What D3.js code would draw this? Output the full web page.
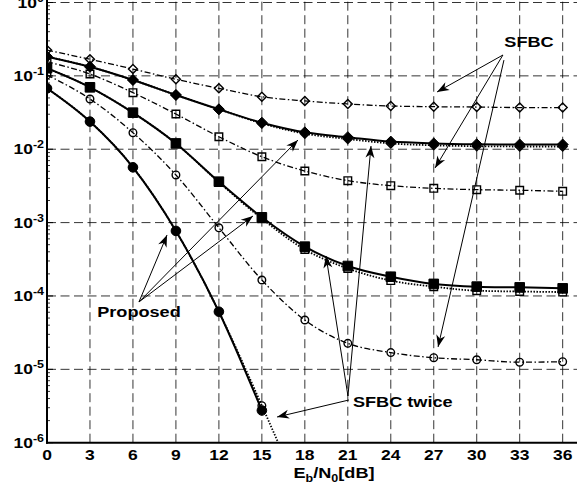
<!DOCTYPE html>
<html>
<head>
<meta charset="utf-8">
<script src="https://cdn.jsdelivr.net/npm/d3@7"></script>
<style>
  body { margin: 0; background: #fff; }
  text { font-family: "Liberation Sans", Arial, sans-serif; font-weight: bold; fill: #000; }
</style>
</head>
<body>
<div id="chart"></div>
<script>
// Basic setup
var width = 585,
    height = 486;

// Eb/N0 in dB, one marker every 3 dB
var snr = [0, 3, 6, 9, 12, 15, 18, 21, 24, 27, 30, 33, 36];
var xTicks = [0, 3, 6, 9, 12, 15, 18, 21, 24, 27, 30, 33, 36];
var yExponents = [0, -1, -2, -3, -4, -5, -6];

// SFBC (dash-dot, open markers)
var sfbcDiamond = [0.225, 0.168, 0.124, 0.0898, 0.0676, 0.052, 0.0455, 0.0414, 0.0388, 0.038, 0.0376, 0.037, 0.037];
var sfbcSquare  = [0.156, 0.106, 0.059, 0.0302, 0.0148, 0.0079, 0.00505, 0.00373, 0.00319, 0.00293, 0.00281, 0.00276, 0.00267];
var sfbcCircle  = [0.103, 0.0484, 0.0168, 0.00446, 8.5e-4, 1.65e-4, 4.7e-5, 2.26e-5, 1.69e-5, 1.44e-5, 1.35e-5, 1.25e-5, 1.27e-5];

// Proposed (solid, filled markers)
var propDiamond = [0.183, 0.133, 0.0879, 0.0549, 0.035, 0.023, 0.017, 0.0146, 0.0127, 0.012, 0.0117, 0.0116, 0.0116];
var propSquare  = [0.127, 0.0698, 0.0315, 0.012, 0.00361, 0.00118, 4.7e-4, 2.56e-4, 1.83e-4, 1.46e-4, 1.34e-4, 1.31e-4, 1.27e-4];
var propCircle  = [0.0676, 0.0238, 0.00567, 7.7e-4, 6.1e-5, 2.75e-6];

// SFBC twice (dotted, open markers)
var twiceDiamond = [0.183, 0.133, 0.0879, 0.0549, 0.035, 0.0225, 0.0163, 0.0138, 0.012, 0.0113, 0.011, 0.0109, 0.0109];
var twiceSquare  = [0.127, 0.0698, 0.0315, 0.012, 0.00355, 0.00113, 4.3e-4, 2.37e-4, 1.62e-4, 1.34e-4, 1.18e-4, 1.15e-4, 1.13e-4];
var twiceCircle  = [0.0676, 0.0238, 0.00567, 7.7e-4, 6.1e-5, 3.2e-6, 1.45e-7];

// Annotations in data units: label, label position, arrows [from, to]
var annotations = [
  { text: "SFBC", at: [33.65, 0.29], anchor: "middle",
    arrows: [[[31.83, 0.1925], [27.23, 0.0603]],
             [[31.83, 0.1925], [27.09, 0.00555]],
             [[31.9, 0.164], [27.3, 2.02e-5]]] },
  { text: "Proposed", at: [6.42, 6.05e-5], anchor: "middle",
    arrows: [[[6.42, 8.28e-5], [8.38, 6.78e-4]],
             [[6.42, 8.28e-5], [14.38, 1.23e-3]],
             [[6.42, 8.28e-5], [17.52, 0.01336]]] },
  { text: "SFBC twice", at: [21.36, 3.59e-6], anchor: "start",
    arrows: [[[21.08, 3.82e-6], [16.06, 2.24e-6]],
             [[21.01, 4.33e-6], [19.48, 3.5e-4]],
             [[21.01, 4.33e-6], [22.62, 0.01107]]] }
];

var stretch = 1.25; // the figure text is horizontally stretched

var x = d3.scaleLinear().domain([0, 37]).range([47, 577]);
var y = d3.scaleLog().domain([1e-6, 1]).range([442.7, 2.5]);

var svg = d3.select("#chart").append("svg")
    .attr("width", width)
    .attr("height", height);

svg.append("defs").append("clipPath").attr("id", "plot")
  .append("rect")
    .attr("x", x(0)).attr("y", 0)
    .attr("width", x(37) - x(0)).attr("height", y(1e-6));

var arrowHead = svg.select("defs").append("marker")
    .attr("id", "head")
    .attr("markerUnits", "userSpaceOnUse")
    .attr("markerWidth", 14).attr("markerHeight", 12)
    .attr("viewBox", "-13 -6 14 12")
    .attr("refX", 0).attr("refY", 0)
    .attr("orient", "auto");
arrowHead.append("path").attr("d", "M0,0 L-12,-4.5 L-8.5,0 L-12,4.5 Z").attr("fill", "#000");

// Grid (dashed)
var grid = svg.append("g").attr("stroke", "#000").attr("stroke-width", 0.8).attr("stroke-dasharray", "9,4.5");
grid.selectAll("line.vx")
    .data(xTicks.filter(function(d) { return d > 0; }))
  .enter().append("line")
    .attr("x1", function(d) { return x(d); }).attr("x2", function(d) { return x(d); })
    .attr("y1", y(1e-6)).attr("y2", 0);
grid.selectAll("line.hy")
    .data(yExponents.filter(function(d) { return d > -6; }))
  .enter().append("line")
    .attr("x1", x(0)).attr("x2", x(37))
    .attr("y1", function(d) { return y(Math.pow(10, d)); })
    .attr("y2", function(d) { return y(Math.pow(10, d)); });

// Minor ticks on the log axis
var minor = [];
for (var e = -6; e < 0; e++) {
  for (var m = 2; m <= 9; m++) minor.push(m * Math.pow(10, e));
}
svg.append("g").selectAll("line")
    .data(minor)
  .enter().append("line")
    .attr("x1", x(0)).attr("x2", x(0) + 3)
    .attr("y1", function(d) { return y(d); }).attr("y2", function(d) { return y(d); })
    .attr("stroke", "#000").attr("stroke-width", 0.8);
svg.append("g").selectAll("line")
    .data(yExponents)
  .enter().append("line")
    .attr("x1", x(0)).attr("x2", x(0) + 6)
    .attr("y1", function(d) { return y(Math.pow(10, d)); })
    .attr("y2", function(d) { return y(Math.pow(10, d)); })
    .attr("stroke", "#000").attr("stroke-width", 1);

// Axis lines
svg.append("line").attr("x1", x(0)).attr("x2", x(0)).attr("y1", 0).attr("y2", y(1e-6) + 1)
    .attr("stroke", "#000").attr("stroke-width", 2);
svg.append("line").attr("x1", x(0) - 1).attr("x2", x(37)).attr("y1", y(1e-6)).attr("y2", y(1e-6))
    .attr("stroke", "#000").attr("stroke-width", 2);

// Tick labels
svg.append("g").selectAll("text")
    .data(xTicks)
  .enter().append("text")
    .attr("transform", function(d) { return "translate(" + x(d) + ",460) scale(" + stretch + ",1)"; })
    .attr("text-anchor", "middle")
    .style("font-size", "14px")
    .text(function(d) { return d; });

var yLab = svg.append("g").selectAll("text")
    .data(yExponents)
  .enter().append("text")
    .attr("transform", function(d) { return "translate(44," + (y(Math.pow(10, d)) + 5) + ") scale(" + stretch + ",1)"; })
    .attr("text-anchor", "end")
    .style("font-size", "14px");
yLab.append("tspan").text("10");
yLab.append("tspan").attr("dy", -6).style("font-size", "10px").text(function(d) { return d; });

// X axis title: Eb/N0[dB]
var xt = svg.append("text")
    .attr("transform", "translate(334,478) scale(" + stretch + ",1)")
    .attr("text-anchor", "middle")
    .style("font-size", "14.5px");
xt.append("tspan").text("E");
xt.append("tspan").attr("dy", 4).style("font-size", "10px").text("b");
xt.append("tspan").attr("dy", -4).text("/N");
xt.append("tspan").attr("dy", 4).style("font-size", "10px").text("0");
xt.append("tspan").attr("dy", -4).text("[dB]");

// Series
var series = [
  { values: twiceDiamond, marker: "diamond", filled: false, style: "dot" },
  { values: twiceSquare,  marker: "square",  filled: false, style: "dot" },
  { values: twiceCircle,  marker: "circle",  filled: false, style: "dot" },
  { values: sfbcDiamond,  marker: "diamond", filled: false, style: "dashdot" },
  { values: sfbcSquare,   marker: "square",  filled: false, style: "dashdot" },
  { values: sfbcCircle,   marker: "circle",  filled: false, style: "dashdot" },
  { values: propDiamond,  marker: "diamond", filled: true,  style: "solid" },
  { values: propSquare,   marker: "square",  filled: true,  style: "solid" },
  { values: propCircle,   marker: "circle",  filled: true,  style: "solid" }
];

var line = d3.line()
    .x(function(d) { return x(d[0]); })
    .y(function(d) { return y(d[1]); })
    .curve(d3.curveMonotoneX);

function markerPath(kind, r) {
  if (kind === "diamond") return "M0," + (-r) + "L" + r + ",0L0," + r + "L" + (-r) + ",0Z";
  if (kind === "square") return "M" + (-r) + "," + (-r) + "H" + r + "V" + r + "H" + (-r) + "Z";
  return "M" + r + ",0A" + r + "," + r + " 0 1,1 " + (-r) + ",0A" + r + "," + r + " 0 1,1 " + r + ",0Z";
}

var plot = svg.append("g").attr("clip-path", "url(#plot)");

series.forEach(function(s) {
  var pts = s.values.map(function(v, i) { return [snr[i], v]; });
  var path = plot.append("path")
      .datum(pts)
      .attr("d", line)
      .attr("fill", "none")
      .attr("stroke", "#000");
  if (s.style === "solid") path.attr("stroke-width", 2);
  if (s.style === "dashdot") path.attr("stroke-width", 1.3).attr("stroke-dasharray", "6,2.5,1.5,2.5");
  if (s.style === "dot") path.attr("stroke-width", 1.8).attr("stroke-dasharray", "1.5,1.5");

  var r;
  if (s.filled) r = s.marker === "diamond" ? 5.5 : (s.marker === "square" ? 4.8 : 4.8);
  else r = s.marker === "diamond" ? 4.5 : (s.marker === "square" ? 3.8 : 3.8);

  plot.selectAll(null)
      .data(pts)
    .enter().append("path")
      .attr("transform", function(d) { return "translate(" + x(d[0]) + "," + y(d[1]) + ")"; })
      .attr("d", markerPath(s.marker, r))
      .attr("fill", s.filled ? "#000" : "none")
      .attr("stroke", "#000")
      .attr("stroke-width", s.filled ? 1 : 1.4);
});

// Annotations
annotations.forEach(function(a) {
  a.arrows.forEach(function(ar) {
    svg.append("line")
        .attr("x1", x(ar[0][0])).attr("y1", y(ar[0][1]))
        .attr("x2", x(ar[1][0])).attr("y2", y(ar[1][1]))
        .attr("stroke", "#000").attr("stroke-width", 1)
        .attr("marker-end", "url(#head)");
  });
  svg.append("text")
      .attr("transform", "translate(" + x(a.at[0]) + "," + (y(a.at[1]) + 5) + ") scale(" + stretch + ",1)")
      .attr("text-anchor", a.anchor)
      .style("font-size", "14.5px")
      .text(a.text);
});
</script>
</body>
</html>
